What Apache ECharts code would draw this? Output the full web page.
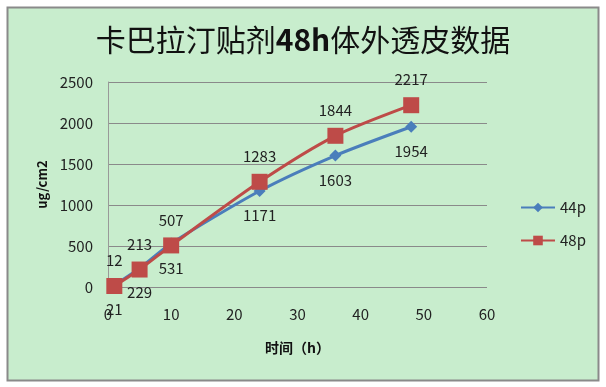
<!DOCTYPE html>
<html><head><meta charset="utf-8">
<script src="https://cdn.jsdelivr.net/npm/echarts@6/dist/echarts.min.js"></script>
<style>html,body{margin:0;padding:0;background:#fff}#c{width:606px;height:387px}</style>
</head><body><div id="c"></div>
<script>
const hours = [1, 5, 10, 24, 36, 48];
const s44p = [21, 229, 531, 1171, 1603, 1954];
const s48p = [12, 213, 507, 1283, 1844, 2217];
const seriesNames = ['44p', '48p'];

const chart = echarts.init(document.getElementById('c'), null, {renderer: 'canvas'});
const font = '"Noto Sans CJK SC", "DejaVu Sans", sans-serif';
chart.setOption({
  animation: false,
  textStyle: {fontFamily: font},
  graphic: [{
    type: 'rect', z: -10, silent: true,
    shape: {x: 7.5, y: 7.5, width: 591, height: 373},
    style: {fill: '#C8EDCD', stroke: '#8a8a8a', lineWidth: 2}
  }],
  title: {
    text: '{n|卡巴拉汀贴剂}{b|48h}{n|体外透皮数据}',
    left: 'center', top: 20,
    textStyle: {
      fontWeight: 'normal',
      rich: {
        n: {fontSize: 30, color: '#111', fontWeight: 'normal', fontFamily: font},
        b: {fontSize: 30, color: '#111', fontWeight: 'bold', fontFamily: font}
      }
    }
  },
  legend: {
    orient: 'vertical', left: 515, top: 195, itemGap: 18,
    itemWidth: 34, itemHeight: 12,
    textStyle: {fontSize: 15, color: '#222'},
    data: seriesNames
  },
  grid: {left: 108, right: 119, top: 82, bottom: 100},
  xAxis: {
    type: 'value', min: 0, max: 60, interval: 10,
    name: '时间（h）', nameLocation: 'middle', nameGap: 54,
    nameTextStyle: {fontSize: 14, fontWeight: 'bold', color: '#111'},
    axisLine: {show: false}, axisTick: {show: false},
    axisLabel: {fontSize: 15, color: '#222', margin: 20},
    splitLine: {show: false}
  },
  yAxis: {
    type: 'value', min: 0, max: 2500, interval: 500,
    name: 'ug/cm2', nameLocation: 'middle', nameGap: 58,
    nameTextStyle: {fontSize: 13, fontWeight: 'bold', color: '#111'},
    axisLine: {show: true, lineStyle: {color: '#999', width: 1}},
    axisTick: {show: false},
    axisLabel: {fontSize: 15, color: '#222', margin: 15, formatter: v => String(v)},
    splitLine: {lineStyle: {color: '#8a8a8a', width: 1}}
  },
  series: [
    {
      name: seriesNames[0], type: 'line', smooth: 0.25,
      data: hours.map((h, i) => [h, s44p[i]]),
      symbol: 'diamond', symbolSize: 12,
      lineStyle: {color: '#4A7EBB', width: 3},
      itemStyle: {color: '#4A7EBB'},
      label: {show: true, position: 'bottom', distance: 11, fontSize: 15, color: '#222'}
    },
    {
      name: seriesNames[1], type: 'line', smooth: 0.25,
      data: hours.map((h, i) => [h, s48p[i]]),
      symbol: 'rect', symbolSize: 16,
      lineStyle: {color: '#BE4B48', width: 3},
      itemStyle: {color: '#BE4B48'},
      label: {show: true, position: 'top', distance: 10, fontSize: 15, color: '#222'}
    }
  ]
});
</script></body></html>
